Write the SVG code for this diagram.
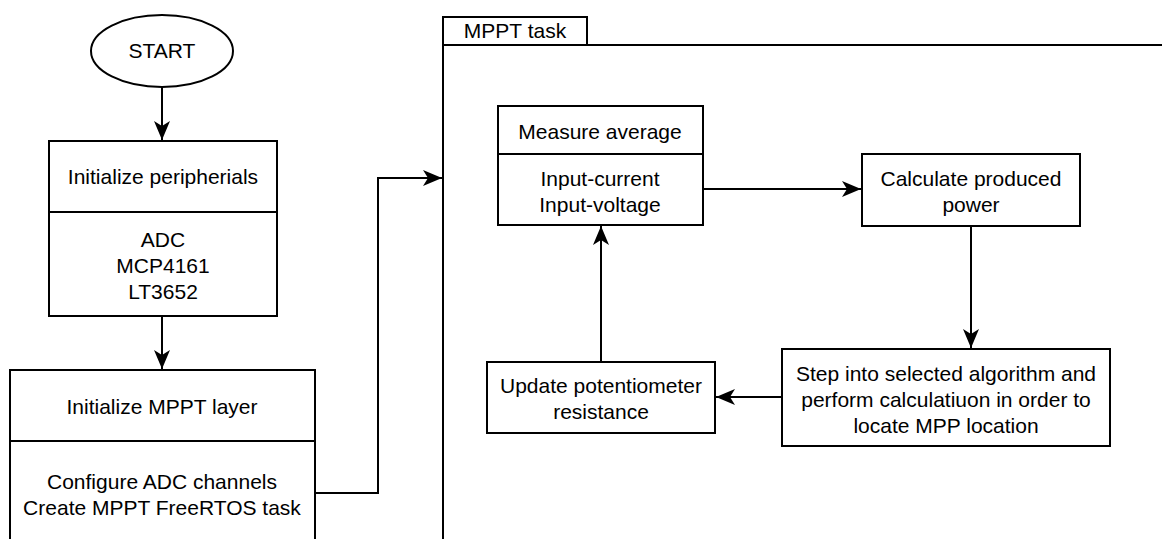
<svg xmlns="http://www.w3.org/2000/svg" width="1162" height="539" viewBox="0 0 1162 539">
<style>
.s{fill:#fff;stroke:#000;stroke-width:2}
.l{fill:none;stroke:#000;stroke-width:2}
.c{fill:none;stroke:#000;stroke-width:2;marker-end:url(#ah)}
text{font-family:"Liberation Sans",Arial,sans-serif;font-size:21px;fill:#000;text-anchor:middle}
</style>
<defs>
<marker id="ah" viewBox="-20 -10 20 20" refX="0" refY="0" markerWidth="20" markerHeight="20" markerUnits="userSpaceOnUse" orient="auto">
<path d="M0,0 L-19,-8 L-14,0 L-19,8 Z" fill="#000"/>
</marker>
</defs>
<rect width="1162" height="539" fill="#fff"/>
<g id="container">
<rect class="s" x="443" y="17" width="144" height="28"/>
<path class="l" d="M443,17 V545 M443,45 H1170"/>
<text x="515" y="38">MPPT task</text>
</g>
<g id="connectors">
<path class="c" d="M162,88 V140"/>
<path class="c" d="M162,316 V369"/>
<path class="c" d="M315,493 H378 V178 H442"/>
<path class="c" d="M703,189 H861"/>
<path class="c" d="M971,226 V348"/>
<path class="c" d="M782,397 H716"/>
<path class="c" d="M601,362 V226"/>
</g>
<g id="start">
<ellipse class="s" cx="162" cy="51" rx="71" ry="36"/>
<text x="162" y="58">START</text>
</g>
<g id="init-peripherals">
<rect class="s" x="49" y="141" width="228" height="175"/>
<path class="l" d="M49,212 H277"/>
<text x="163" y="184">Initialize peripherials</text>
<text x="163" y="247">ADC</text>
<text x="163" y="273">MCP4161</text>
<text x="163" y="299">LT3652</text>
</g>
<g id="init-mppt">
<rect class="s" x="10" y="370" width="305" height="200"/>
<path class="l" d="M10,441 H315"/>
<text x="162" y="414">Initialize MPPT layer</text>
<text x="162" y="489">Configure ADC channels</text>
<text x="162" y="515">Create MPPT FreeRTOS task</text>
</g>
<g id="measure">
<rect class="s" x="498" y="106" width="205" height="119"/>
<path class="l" d="M498,154 H703"/>
<text x="600" y="139">Measure average</text>
<text x="600" y="186">Input-current</text>
<text x="600" y="212">Input-voltage</text>
</g>
<g id="calculate">
<rect class="s" x="862" y="154" width="218" height="72"/>
<text x="971" y="186">Calculate produced</text>
<text x="971" y="212">power</text>
</g>
<g id="step">
<rect class="s" x="782" y="349" width="328" height="97"/>
<text x="946" y="381">Step into selected algorithm and</text>
<text x="946" y="407">perform calculatiuon in order to</text>
<text x="946" y="433">locate MPP location</text>
</g>
<g id="update">
<rect class="s" x="487" y="362" width="228" height="71"/>
<text x="601" y="393">Update potentiometer</text>
<text x="601" y="419">resistance</text>
</g>
</svg>
